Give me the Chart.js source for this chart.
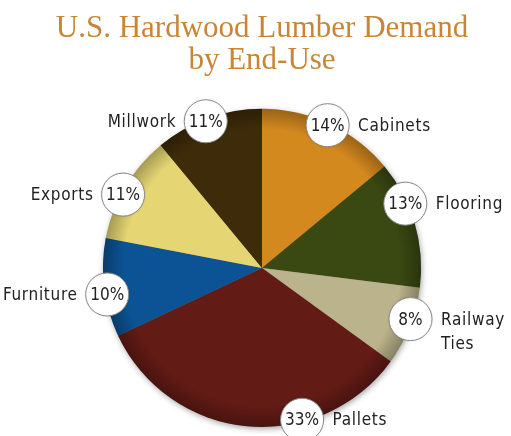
<!DOCTYPE html>
<html>
<head>
<meta charset="utf-8">
<script src="https://cdn.jsdelivr.net/npm/chart.js@4"></script>
<style>
  body { margin: 0; background: #ffffff; }
  canvas { display: block; }
</style>
</head>
<body>
<canvas id="myChart" width="511" height="436"></canvas>
<script>
'use strict';

//the end uses, clockwise from the top
let categories = ['Cabinets', 'Flooring', ['Railway', 'Ties'], 'Pallets', 'Furniture', 'Exports', 'Millwork'];
//share of demand in percent
let shares = [14, 13, 8, 33, 10, 11, 11];
//colour of every slice
let sliceColors = ['#d4891f', '#3a4912', '#bbb38b', '#631b15', '#0b5394', '#e5d673', '#3e2b09'];
//where the round label sits along its slice (0 = start, 1 = end)
let labelPlace = [0.49, 0.33, 0.41, 0.33, 0.43, 0.43, 0.47];

let labelFont = '17px "DejaVu Sans Condensed", "DejaVu Sans", sans-serif';

//soft shadow under the pie
let pieShadow = {
    id: 'pieShadow',
    beforeDatasetsDraw(chart) {
        let arc = chart.getDatasetMeta(0).data[0];
        let ctx = chart.ctx;
        ctx.save();
        ctx.shadowColor = 'rgba(0,0,0,0.4)';
        ctx.shadowBlur = 6;
        ctx.shadowOffsetX = 1;
        ctx.shadowOffsetY = 2;
        ctx.fillStyle = '#777';
        ctx.beginPath();
        ctx.arc(arc.x, arc.y, arc.outerRadius - 0.5, 0, Math.PI * 2);
        ctx.fill();
        ctx.restore();
    }
};

//darker rim and the round percent labels
let pieLabels = {
    id: 'pieLabels',
    afterDatasetsDraw(chart) {
        let meta = chart.getDatasetMeta(0);
        let ctx = chart.ctx;
        let first = meta.data[0];
        let cx = first.x;
        let cy = first.y;
        let r = first.outerRadius;

        //rim shading
        ctx.save();
        let grad = ctx.createRadialGradient(cx, cy, r * 0.87, cx, cy, r);
        grad.addColorStop(0, 'rgba(0,0,0,0)');
        grad.addColorStop(1, 'rgba(0,0,0,0.28)');
        ctx.fillStyle = grad;
        ctx.beginPath();
        ctx.arc(cx, cy, r, 0, Math.PI * 2);
        ctx.fill();
        ctx.restore();

        for (let x = 0; x < meta.data.length; x++) {
            let arc = meta.data[x];
            let angle = arc.startAngle + (arc.endAngle - arc.startAngle) * labelPlace[x];
            let px = cx + (r - 2) * Math.cos(angle);
            let py = cy + (r - 2) * Math.sin(angle);
            let rad = 21.5;

            ctx.save();
            ctx.shadowColor = 'rgba(0,0,0,0.25)';
            ctx.shadowBlur = 2;
            ctx.fillStyle = '#ffffff';
            ctx.beginPath();
            ctx.arc(px, py, rad, 0, Math.PI * 2);
            ctx.fill();
            ctx.restore();

            ctx.save();
            ctx.strokeStyle = '#8a8a8a';
            ctx.lineWidth = 1;
            ctx.beginPath();
            ctx.arc(px, py, rad, 0, Math.PI * 2);
            ctx.stroke();

            ctx.fillStyle = '#222222';
            ctx.font = labelFont;
            ctx.textBaseline = 'middle';
            ctx.textAlign = 'center';
            ctx.fillText(shares[x] + '%', px, py + 1);

            //name next to the circle
            let lines = [].concat(chart.data.labels[x]);
            let right = Math.cos(angle) >= 0;
            ctx.letterSpacing = '0.7px';
            ctx.textAlign = right ? 'left' : 'right';
            let tx = right ? px + rad + 9 : px - rad - 8;
            for (let i = 0; i < lines.length; i++) {
                ctx.fillText(lines[i], tx, py + 1 + i * 24);
            }
            ctx.restore();
        }
    }
};

function chartform() {
    let ctx = document.getElementById('myChart').getContext('2d');
    let chart = new Chart(ctx, {
        type: 'pie',
        data: {
            labels: categories,
            datasets: [{
                data: shares,
                backgroundColor: sliceColors,
                borderWidth: 0,
                hoverOffset: 0
            }]
        },
        options: {
            responsive: false,
            animation: false,
            devicePixelRatio: 1,
            events: [],
            layout: {
                padding: { left: 13, right: 0, top: 0, bottom: 9 }
            },
            plugins: {
                legend: { display: false },
                tooltip: { enabled: false },
                title: {
                    display: true,
                    text: ['U.S. Hardwood Lumber Demand', 'by End-Use'],
                    color: '#c98536',
                    font: { family: '"Liberation Serif", "Times New Roman", serif', size: 31, weight: 'normal', lineHeight: 1.03 },
                    padding: { top: 13, bottom: 32 }
                }
            }
        },
        plugins: [pieShadow, pieLabels]
    });
}
chartform();
</script>
</body>
</html>
